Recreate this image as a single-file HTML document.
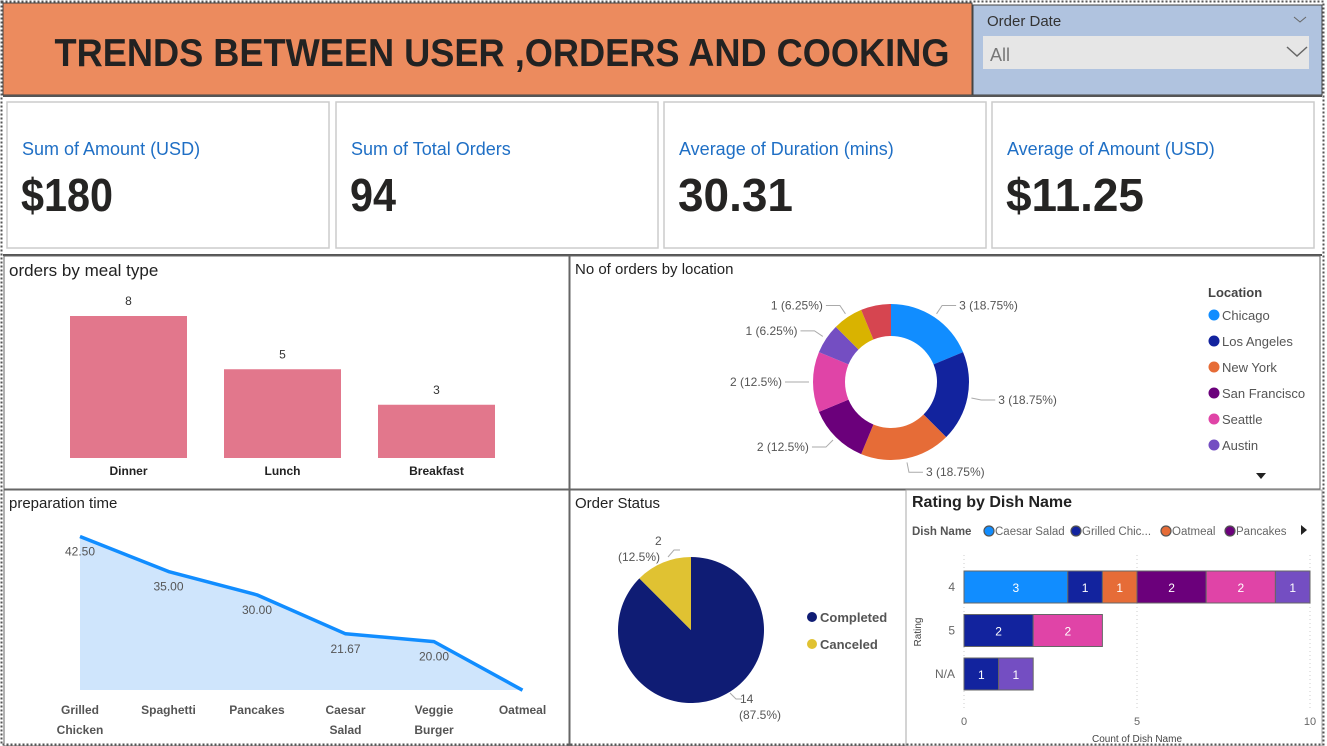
<!DOCTYPE html>
<html><head><meta charset="utf-8"><style>
html,body{margin:0;padding:0;background:#fff;}
svg{display:block;font-family:"Liberation Sans",sans-serif;}
</style></head><body>
<svg id="dash" width="1327" height="746" viewBox="0 0 1327 746" xmlns="http://www.w3.org/2000/svg">
<rect x="0" y="0" width="1327" height="746" fill="#fff"/>
<rect x="1.5" y="1.5" width="1322" height="743" fill="none" stroke="#555" stroke-width="2" stroke-dasharray="2,2"/>
<g>
<rect x="3" y="3" width="969" height="92" fill="#ec8b5e" stroke="#444" stroke-width="1"/>
<text x="502" y="66" text-anchor="middle" font-size="39" font-weight="bold" fill="#222" textLength="895" lengthAdjust="spacingAndGlyphs">TRENDS BETWEEN USER ,ORDERS AND COOKING</text>
</g>
<g>
<rect x="973" y="5" width="349" height="90" fill="#b0c3df" stroke="#444" stroke-width="1"/>
<text x="987" y="26" font-size="15" fill="#333">Order Date</text>
<path d="M1294 17 l6 5 l6 -5" fill="none" stroke="#666" stroke-width="1"/>
<rect x="983" y="36" width="326" height="33" fill="#e6e6e6"/>
<text x="990" y="61" font-size="18" fill="#777">All</text>
<path d="M1287 47 l10 9 l10 -9" fill="none" stroke="#666" stroke-width="1.5"/>
</g>
<line x1="3" y1="96" x2="1322" y2="96" stroke="#555" stroke-width="2"/>
<g id="kpis"></g>
<line x1="3" y1="255" x2="1322" y2="255" stroke="#555" stroke-width="2"/>
<rect x="4" y="256" width="565" height="233" fill="none" stroke="#666" stroke-width="1"/>
<rect x="570" y="256" width="750" height="233" fill="none" stroke="#666" stroke-width="1"/>
<rect x="4" y="490" width="565" height="256" fill="none" stroke="#666" stroke-width="1"/>
<rect x="570" y="490" width="336" height="256" fill="none" stroke="#666" stroke-width="1"/>
<rect x="906" y="490" width="416" height="256" fill="none" stroke="#aaa" stroke-width="1"/>
<text x="9" y="276" font-size="17" fill="#222">orders by meal type</text>
<text x="575" y="274" font-size="15" fill="#222">No of orders by location</text>
<text x="9" y="508" font-size="15" fill="#222">preparation time</text>
<text x="575" y="508" font-size="15" fill="#222">Order Status</text>
<text x="912" y="507" font-size="16" font-weight="bold" fill="#222">Rating by Dish Name</text>
<g id="meal"></g><g id="loc"></g><g id="prep"></g><g id="status"></g><g id="rating"></g>
</svg>
<script>
const NS="http://www.w3.org/2000/svg";
function mk(tag,attrs,parent,txt){const e=document.createElementNS(NS,tag);for(const k in attrs)e.setAttribute(k,attrs[k]);if(txt!==undefined)e.textContent=txt;parent.appendChild(e);return e;}

const kpiLabels=["Sum of Amount (USD)","Sum of Total Orders","Average of Duration (mins)","Average of Amount (USD)"];
const kpiValues=["$180","94","30.31","$11.25"];
const kpiG=document.getElementById('kpis');
const kpiX=[7,336,664,992];
kpiLabels.forEach((l,i)=>{
  const g=mk('g',{},kpiG);
  
  
  mk('rect',{x:kpiX[i],y:102,width:322,height:146,fill:'#fff',stroke:'#ccc','stroke-width':1.5},g);
  const t=mk('text',{x:kpiX[i]+15,y:155,'font-size':18,fill:'#1f6fc5'},g,l);
  
  
  const v=mk('text',{x:kpiX[i]+14,y:211,'font-size':46,'font-weight':'bold',fill:'#252423',textLength:kpiValues[i].length*23,lengthAdjust:'spacingAndGlyphs'},g,kpiValues[i]);
  
  
});

const mealCats=["Dinner","Lunch","Breakfast"];
const mealVals=[8,5,3];
const mealG=document.getElementById('meal');
const mBase=458,mUnit=17.75;
mealCats.forEach((c,i)=>{
  const x=70+i*154,h=mealVals[i]*mUnit;
  const r=mk('rect',{x:x,y:mBase-h,width:117,height:h,fill:'#e2778c'},mealG);
  
  
  const v=mk('text',{x:x+58.5,y:mBase-h-11,'text-anchor':'middle','font-size':12,fill:'#333'},mealG,mealVals[i]);
  
  
  const l=mk('text',{x:x+58.5,y:475,'text-anchor':'middle','font-size':12,'font-weight':'bold',fill:'#222'},mealG,c);
  
  
});

const locNames=["Chicago","Los Angeles","New York","San Francisco","Seattle","Austin","Other A","Other B"];
const locVals=[3,3,3,2,2,1,1,1];
const locColors=["#118dff","#12239e","#e66c37","#6b007b","#e044a7","#744ec2","#d9b300","#d64550"];
const locG=document.getElementById('loc');
const cx=891,cy=382,R=78,r0=46;
const tot=locVals.reduce((a,b)=>a+b,0);
let acc=0;
function pt(a,rr){return [cx+rr*Math.sin(a),cy-rr*Math.cos(a)];}
locVals.forEach((v,i)=>{
  const a0=acc/tot*2*Math.PI;acc+=v;const a1=acc/tot*2*Math.PI;
  const lg=(a1-a0)>Math.PI?1:0;
  const p1=pt(a0,R),p2=pt(a1,R),p3=pt(a1,r0),p4=pt(a0,r0);
  const p=mk('path',{d:`M${p1} A${R},${R} 0 ${lg} 1 ${p2} L${p3} A${r0},${r0} 0 ${lg} 0 ${p4}Z`,fill:locColors[i]},locG);
  
  
  if(i===locVals.length-1)return;
  const am=(a0+a1)/2;const q=pt(am,R+4),q2=pt(am,R+14);
  const right=Math.sin(am)>=0;
  const ex=q2[0]+(right?14:-14);
  mk('polyline',{points:`${q} ${q2} ${ex},${q2[1]}`,fill:'none',stroke:'#aaa','stroke-width':1},locG);
  const t=mk('text',{x:ex+(right?3:-3),y:q2[1]+4,'text-anchor':right?'start':'end','font-size':12,fill:'#555'},locG,v+' ('+(v/tot*100).toFixed(2).replace(/0$/,'')+'%)');
  
  
});
mk('text',{x:1208,y:297,'font-size':13,'font-weight':'bold',fill:'#444'},locG,'Location');
for(let i=0;i<6;i++){
  const y=315+i*26;
  const g=mk('g',{},locG);
  
  
  mk('circle',{cx:1214,cy:y,r:5.5,fill:locColors[i]},g);
  mk('text',{x:1222,y:y+5,'font-size':13,fill:'#555'},g,locNames[i]);
}
const tri=mk('path',{d:'M1256 473 h10 l-5 6z',fill:'#222'},locG);



const prepCats=[["Grilled","Chicken"],["Spaghetti"],["Pancakes"],["Caesar","Salad"],["Veggie","Burger"],["Oatmeal"]];
const prepVals=[42.5,35,30,21.67,20,9.6];
const prepLabels=["42.50","35.00","30.00","21.67","20.00",""];
const prepG=document.getElementById('prep');
const px=i=>80+i*88.5, py=v=>735-v*4.67, pBase=690;
let line=prepVals.map((v,i)=>px(i)+','+py(v)).join(' ');
const area=mk('polygon',{points:`${px(0)},${pBase} ${line} ${px(5)},${pBase}`,fill:'#cfe5fc'},prepG);


const pl=mk('polyline',{points:line,fill:'none',stroke:'#118dff','stroke-width':3.5,'stroke-linejoin':'round'},prepG);


prepVals.forEach((v,i)=>{
  if(prepLabels[i]){
    const t=mk('text',{x:px(i),y:py(v)+19,'text-anchor':'middle','font-size':12,fill:'#555'},prepG,prepLabels[i]);
    
    
  }
  prepCats[i].forEach((w,j)=>{
    const t=mk('text',{x:px(i),y:714+j*20,'text-anchor':'middle','font-size':12,'font-weight':'bold',fill:'#555'},prepG,w);
    
    
  });
});

const statusNames=["Completed","Canceled"];
const statusVals=[14,2];
const statusColors=["#0f1c74","#e0c232"];
const sG=document.getElementById('status');
const scx=691,scy=630,sR=73;
const sTot=statusVals[0]+statusVals[1];
const aC=statusVals[0]/sTot*2*Math.PI;
function sp(a){return [scx+sR*Math.sin(a),scy-sR*Math.cos(a)];}
const sp1=mk('path',{d:`M${scx},${scy} L${sp(0)} A${sR},${sR} 0 ${aC>Math.PI?1:0} 1 ${sp(aC)} Z`,fill:statusColors[0]},sG);


const sp2=mk('path',{d:`M${scx},${scy} L${sp(aC)} A${sR},${sR} 0 ${aC<Math.PI?1:0} 1 ${sp(2*Math.PI)} Z`,fill:statusColors[1]},sG);


mk('polyline',{points:'730,693 736,699 742,699',fill:'none',stroke:'#aaa'},sG);
mk('text',{x:740,y:703,'font-size':12,fill:'#555'},sG,statusVals[0]);
mk('text',{x:739,y:719,'font-size':12,fill:'#555'},sG,'('+(statusVals[0]/sTot*100).toFixed(1)+'%)');
mk('polyline',{points:'668,557 674,550 680,550',fill:'none',stroke:'#aaa'},sG);
mk('text',{x:655,y:545,'font-size':12,fill:'#555'},sG,statusVals[1]);
mk('text',{x:618,y:561,'font-size':12,fill:'#555'},sG,'('+(statusVals[1]/sTot*100).toFixed(1)+'%)');
statusNames.forEach((n,i)=>{
  const g=mk('g',{},sG);
  
  
  mk('circle',{cx:812,cy:617+i*27,r:5,fill:statusColors[i]},g);
  mk('text',{x:820,y:622+i*27,'font-size':13,'font-weight':'bold',fill:'#555'},g,n);
});

const ratingCats=["4","5","N/A"];
const dishNames=["Caesar Salad","Grilled Chicken","Oatmeal","Pancakes","Spaghetti","Veggie Burger"];
const dishColors=["#118dff","#12239e","#e66c37","#6b007b","#e044a7","#744ec2"];
const dishCaesar=[3,0,0];
const dishGrilled=[1,2,1];
const dishOatmeal=[1,0,0];
const dishPancakes=[2,0,0];
const dishSpaghetti=[2,2,0];
const dishVeggie=[1,0,1];
const xTicks=[0,5,10];
const series=[dishCaesar,dishGrilled,dishOatmeal,dishPancakes,dishSpaghetti,dishVeggie];
const rG=document.getElementById('rating');
const rx=v=>964+v*34.6;
const ry=i=>571+i*43.5;
xTicks.forEach(t=>{
  mk('line',{x1:rx(t),y1:555,x2:rx(t),y2:710,stroke:'#ccc','stroke-dasharray':'1,3'},rG);
  const tt=mk('text',{x:rx(t),y:725,'text-anchor':'middle','font-size':11,fill:'#666'},rG,t);
  
  
});
ratingCats.forEach((c,i)=>{
  const tt=mk('text',{x:955,y:ry(i)+20,'text-anchor':'end','font-size':12,fill:'#666'},rG,c);
  
  
  let s=0;
  series.forEach((arr,k)=>{
    const v=arr[i];if(!v)return;
    const r=mk('rect',{x:rx(s),y:ry(i),width:v*34.6,height:32,fill:dishColors[k],stroke:'#666','stroke-width':1},rG);
    
    
    mk('text',{x:rx(s+v/2),y:ry(i)+21,'text-anchor':'middle','font-size':12,fill:'#fff'},rG,v);
    s+=v;
  });
});
mk('text',{x:1137,y:742,'text-anchor':'middle','font-size':10,fill:'#444'},rG,'Count of Dish Name');
mk('text',{x:921,y:632,'text-anchor':'middle','font-size':10,fill:'#444',transform:'rotate(-90 921 632)'},rG,'Rating');
mk('text',{x:912,y:535,'font-size':11.5,'font-weight':'bold',fill:'#555'},rG,'Dish Name');
const legShown=["Caesar Salad","Grilled Chic...","Oatmeal","Pancakes"];
const legX=[983,1070,1160,1224];
legShown.forEach((n,i)=>{
  const g=mk('g',{},rG);
  
  
  mk('circle',{cx:legX[i]+6,cy:531,r:5,fill:dishColors[i],stroke:'#555','stroke-width':1.2},g);
  mk('text',{x:legX[i]+12,y:535,'font-size':11.5,fill:'#666'},g,n);
});
const ra=mk('path',{d:'M1301 525 l6 5 l-6 5z',fill:'#222'},rG);


</script>
</body></html>
